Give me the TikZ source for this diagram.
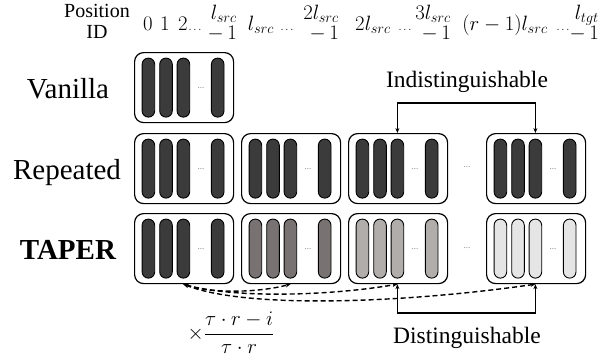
\documentclass[tikz,border=0pt]{standalone}
\usepackage{fontspec}
\setmainfont{Liberation Serif}
\usetikzlibrary{arrows.meta,calc}
\definecolor{cdark}{HTML}{3B3B3B}
\definecolor{cmid}{HTML}{787372}
\definecolor{clight}{HTML}{B1ADAB}
\definecolor{cpale}{HTML}{E5E5E5}
\definecolor{cdots}{HTML}{808080}
\tikzset{
  blockbox/.style={draw, line width=1.2pt, rounded corners=9pt, minimum width=99pt,
    minimum height=70pt, inner sep=0pt, anchor=north west},
  barbox/.style={draw=black, line width=0.9pt, rounded corners=6.2pt, minimum width=12.6pt,
    minimum height=59pt, inner sep=0pt},
  innerdots/.style={text=cdots, font=\fontsize{9}{9}\selectfont, inner sep=0pt},
  rowlabel/.style={font=\fontsize{29}{30}\selectfont, anchor=base, inner sep=0pt},
  hdr/.style={font=\fontsize{20}{20}\selectfont, anchor=base, inner sep=0pt},
  hstack/.style={font=\fontsize{20}{20}\selectfont, anchor=east, inner sep=0pt},
  hdots/.style={font=\fontsize{11}{11}\selectfont, anchor=base, inner sep=0pt},
  biglabel/.style={font=\fontsize{23.5}{24}\selectfont, anchor=base, inner sep=0pt},
  conn/.style={line width=1.4pt, {Stealth[length=5pt,width=4pt]}-{Stealth[length=5pt,width=4pt]}},
  dashconn/.style={line width=1.4pt, dash pattern=on 5pt off 3pt,
    {Stealth[length=5pt,width=4pt]}-{Stealth[length=5pt,width=4pt]}},
}
\newcommand{\blockat}[4]{%
  \node[blockbox] (#1) at (#2,#3) {};
  \foreach \o [count=\k] in {14.4,32,49.4,83.7}
    \node[barbox, fill=#4] (#1-\k) at ([xshift=\o pt]#1.west) {};
  \node[innerdots] at ([xshift=67pt]#1.west) {...};
}
\newcommand{\hstk}[1]{$\begin{array}{@{}r@{}}#1\\-\,1\end{array}$}
\begin{document}
\begin{tikzpicture}[x=1pt,y=-1pt]
\useasboundingbox (0,0) rectangle (611,360);
% header
\node[hdr] (hpos) at (97,17) {Position};
\node[hdr] (hid) at (97,38) {ID};
\node[hdr] (h0) at (148,30) {$0$};
\node[hdr] (h1) at (165,30) {$1$};
\node[hdr] (h2) at (183,30) {$2$};
\node[hdots] (d1) at (195,30) {$\ldots$};
\node[hstack] (s1) at (237,25) {\hstk{l_{src}}};
\node[hdr] (m2) at (261,30) {$l_{src}$};
\node[hdots] (d2) at (287,30) {$\ldots$};
\node[hstack] (s2) at (339,25) {\hstk{2l_{src}}};
\node[hdr] (m3) at (373,30) {$2l_{src}$};
\node[hdots] (d3) at (405,30) {$\ldots$};
\node[hstack] (s3) at (451,25) {\hstk{3l_{src}}};
\node[hdr] (m4) at (505,30) {$(r-1)l_{src}$};
\node[hdots] (d4) at (563,30) {$\ldots$};
\node[hstack] (s4) at (599,25) {\hstk{l_{tgt}}};
% row labels
\node[rowlabel] (lv) at (68,98) {Vanilla};
\node[rowlabel] (lr) at (67,179) {Repeated};
\node[rowlabel] (lt) at (68,259) {\textbf{TAPER}};
% blocks
\blockat{v1}{134}{52}{cdark}
\blockat{r1}{134}{133}{cdark}
\blockat{r2}{241}{133}{cdark}
\blockat{r3}{348}{133}{cdark}
\blockat{r4}{486}{133}{cdark}
\blockat{t1}{134}{213}{cdark}
\blockat{t2}{241}{213}{cmid}
\blockat{t3}{348}{213}{clight}
\blockat{t4}{486}{213}{cpale}
\node[innerdots] (rd) at (467,167.5) {...};
\node[innerdots] (td) at (467,248) {...};
% indistinguishable
\node[biglabel] (ind) at (467,87) {Indistinguishable};
\coordinate (iy) at (467,103);
\draw[conn] (r3-3 |- r3.north) |- (iy) -| (r4-3 |- r4.north);
% distinguishable
\node[biglabel] (dis) at (467,343) {Distinguishable};
\coordinate (dy) at (467,313);
\draw[conn] (t3-3 |- t3.south) |- (dy) -| (t4-3 |- t4.south);
% dashed curves
\coordinate (src) at (t1-3 |- t1.south);
\draw[dashconn] (src) .. controls +(30,10) and +(-30,8) .. (t2-3 |- t2.south);
\draw[dashconn] (src) .. controls +(50,14) and +(-70,12) .. (t3-3 |- t3.south);
\draw[dashconn] (src) .. controls +(60,24) and +(-140,20) .. (t4-3 |- t4.south);
% factor
\node[font=\fontsize{20}{20}\selectfont, inner sep=0pt] (fac) at (231,333) {$\times\displaystyle\frac{\tau\cdot r-i}{\tau\cdot r}$};
\end{tikzpicture}
\end{document}
